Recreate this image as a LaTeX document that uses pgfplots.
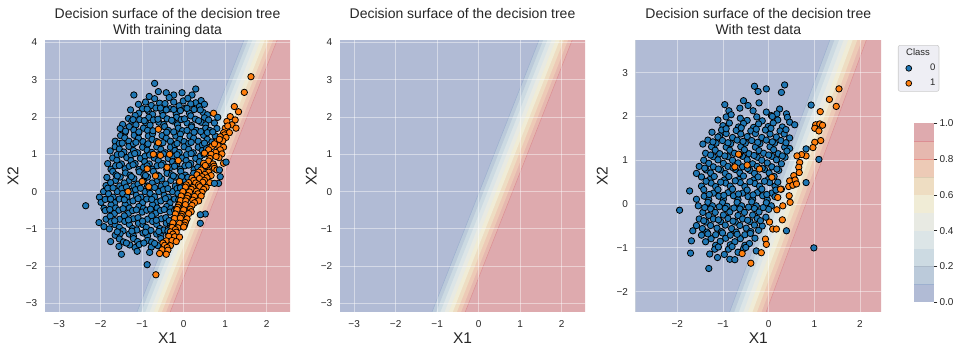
\documentclass[border=0pt]{standalone}
\usepackage{fontspec}
\setmainfont{Liberation Sans}
\usepackage{pgfplots}
\pgfplotsset{compat=1.18}
\definecolor{tabblue}{HTML}{1F77B4}
\definecolor{taborange}{HTML}{FF7F0E}
\definecolor{c0}{HTML}{B1BBD5}
\definecolor{c1}{HTML}{BBCADA}
\definecolor{c2}{HTML}{CCDAE2}
\definecolor{c3}{HTML}{DCE5E7}
\definecolor{c4}{HTML}{E8EAE3}
\definecolor{c5}{HTML}{F0ECD6}
\definecolor{c6}{HTML}{EEDDC2}
\definecolor{c7}{HTML}{EDCAB6}
\definecolor{c8}{HTML}{E6B8AF}
\definecolor{c9}{HTML}{DEAAAE}
\definecolor{lineblue}{HTML}{9DB0CF}
\definecolor{linered}{HTML}{DC8E93}
\definecolor{legfill}{HTML}{EEEEF4}
\definecolor{legedge}{HTML}{CCCCCC}
\definecolor{txt}{HTML}{262626}

\pgfplotsset{
  panel/.style={
    scale only axis, width=245pt, height=271pt,
    tick style={draw=none},
    axis line style={draw=none},
    tick label style={font=\fontsize{10}{12}\selectfont, text=txt},
    xticklabel style={inner sep=0pt, anchor=north, yshift=-8.3pt},
    yticklabel style={inner sep=0pt, anchor=east, xshift=-7.6pt},
    label style={font=\fontsize{15.5}{18}\selectfont, text=txt},
    xlabel style={at={(axis description cs:0.5,-0.1166)}, anchor=base},
    xlabel={X1}, ylabel={X2},
  },
  band/.style={draw=none, forget plot, fill=#1},
  gridln/.style={draw=white, opacity=0.45, line width=0.9pt, forget plot},
  bluepts/.style={only marks, mark=*, mark size=3.2pt, mark options={fill=tabblue, draw=black, line width=0.8pt}, forget plot},
  orgpts/.style={only marks, mark=*, mark size=3.2pt, mark options={fill=taborange, draw=black, line width=0.8pt}, forget plot},
}

\newcommand{\bands}{%
\addplot[band=c9] coordinates {(-10,-6) (10,-6) (10,6) (-10,6)};
\addplot[band=c8] coordinates {(-10,-6) (-1.304,-6) (2.936,6) (-10,6)};
\addplot[band=c7] coordinates {(-10,-6) (-1.404,-6) (2.836,6) (-10,6)};
\addplot[band=c6] coordinates {(-10,-6) (-1.504,-6) (2.736,6) (-10,6)};
\addplot[band=c5] coordinates {(-10,-6) (-1.604,-6) (2.636,6) (-10,6)};
\addplot[band=c4] coordinates {(-10,-6) (-1.704,-6) (2.536,6) (-10,6)};
\addplot[band=c3] coordinates {(-10,-6) (-1.804,-6) (2.436,6) (-10,6)};
\addplot[band=c2] coordinates {(-10,-6) (-1.904,-6) (2.336,6) (-10,6)};
\addplot[band=c1] coordinates {(-10,-6) (-2.004,-6) (2.236,6) (-10,6)};
\addplot[band=c0] coordinates {(-10,-6) (-2.104,-6) (2.136,6) (-10,6)};
\addplot[forget plot, draw=lineblue, line width=0.5pt] coordinates {(-2.104,-6) (2.136,6)};
\addplot[forget plot, draw=linered, line width=0.5pt] coordinates {(-1.304,-6) (2.936,6)};
}
\newcommand{\gridlines}[2]{%
\pgfplotsinvokeforeach{#1}{\addplot[gridln] coordinates {(##1,-10) (##1,10)};}
\pgfplotsinvokeforeach{#2}{\addplot[gridln] coordinates {(-10,##1) (10,##1)};}
}

\begin{document}
\begin{tikzpicture}

% ---------------- Panel 1 : training data ----------------
\begin{axis}[panel, at={(45pt,41.3pt)}, anchor=south west,
  xmin=-3.34, xmax=2.56, ymin=-3.22, ymax=4.045,
  xtick={-3,-2,-1,0,1,2}, xticklabels={−3,−2,−1,0,1,2},
  ytick={-3,-2,-1,0,1,2,3,4}, yticklabels={−3,−2,−1,0,1,2,3,4},
  ylabel style={at={(axis description cs:-0.131,0.5)}, anchor=center}]
\bands
\gridlines{-3,-2,-1,0,1,2}{-3,-2,-1,0,1,2,3,4}
\addplot[bluepts] coordinates {
(-0.70,2.90) (-0.61,2.68) (-0.42,2.65) (-0.24,2.59) (-0.04,2.65) (0.20,2.59) (0.29,2.75) (-1.20,2.59) (-0.83,2.55)
(-0.92,2.40) (-0.70,2.49) (-0.58,2.37) (-0.35,2.52) (-0.24,2.40) (-0.01,2.43) (0.10,2.50) (0.29,2.38) (0.42,2.44)
(-1.09,2.34) (-0.99,2.22) (-0.78,2.31) (-0.67,2.24) (-0.45,2.36) (-0.33,2.22) (-0.11,2.30) (0.05,2.24) (0.17,2.35) (0.38,2.28) (0.50,2.34)
(-1.28,2.19) (-1.08,2.10) (-0.85,2.16) (-0.75,2.07) (-0.52,2.14) (-0.42,2.19) (-0.18,2.08) (-0.08,2.17) (0.14,2.10) (0.25,2.20) (0.47,2.12) (0.57,2.06)
(-1.33,1.96) (-1.17,2.04) (-1.06,1.93) (-0.84,1.99) (-0.73,1.92) (-0.50,2.04) (-0.40,1.95) (-0.17,1.99) (-0.06,1.93) (0.17,2.03) (0.28,1.94) (0.50,1.98) (0.60,1.92)
(-1.47,1.80) (-1.25,1.89) (-1.15,1.79) (-0.92,1.85) (-0.81,1.78) (-0.60,1.86) (-0.48,1.80) (-0.26,1.89) (-0.15,1.79) (0.08,1.84) (0.19,1.77) (0.42,1.86) (0.53,1.79) (0.74,1.84)
(-1.53,1.69) (-1.31,1.74) (-1.20,1.65) (-0.97,1.70) (-0.87,1.64) (-0.46,1.74) (-0.37,1.64) (-0.13,1.70) (-0.03,1.63) (0.19,1.73) (0.30,1.64) (0.53,1.70) (0.63,1.64) (0.80,1.69)
(-1.52,1.50) (-1.41,1.59) (-1.19,1.51) (-1.08,1.58) (-0.85,1.49) (-0.75,1.55) (-0.52,1.50) (-0.41,1.59) (-0.19,1.49) (-0.08,1.54) (0.15,1.49) (0.25,1.59) (0.48,1.51) (0.57,1.58) (0.76,1.49)
(-1.65,1.35) (-1.42,1.44) (-1.32,1.35) (-1.09,1.43) (-0.98,1.34) (-0.76,1.40) (-0.65,1.34) (-0.42,1.43) (-0.32,1.35) (-0.09,1.40) (0.01,1.34) (0.24,1.43) (0.35,1.35) (0.57,1.40) (0.68,1.33)
(-1.65,1.20) (-1.55,1.29) (-1.32,1.21) (-1.21,1.28) (-0.99,1.19) (-0.88,1.25) (-0.65,1.20) (-0.55,1.29) (-0.32,1.19) (-0.21,1.25) (0.01,1.20) (0.12,1.29) (0.35,1.19) (0.45,1.25) (0.64,1.20)
(-1.77,1.09) (-1.55,1.14) (-1.44,1.06) (-1.21,1.10) (-1.11,1.04) (-0.88,1.11) (-0.77,1.05) (-0.55,1.13) (-0.44,1.04) (-0.21,1.10) (-0.11,1.05) (0.12,1.13) (0.23,1.04) (0.45,1.10) (0.55,1.15)
(-1.71,0.90) (-1.60,0.99) (-1.37,0.91) (-1.27,0.98) (-1.04,0.89) (-0.93,0.95) (-0.71,0.90) (-0.60,0.99) (-0.37,0.89) (-0.27,0.95) (-0.04,0.90) (0.07,0.99) (0.29,0.89) (0.40,0.95)
(-1.83,0.75) (-1.61,0.84) (-1.50,0.74) (-1.27,0.83) (-1.17,0.75) (-0.94,0.80) (-0.83,0.74) (-0.61,0.83) (-0.50,0.75) (-0.27,0.80) (-0.17,0.74) (0.06,0.83) (0.17,0.75) (0.38,0.80)
(-1.75,0.60) (-1.64,0.69) (-1.41,0.61) (-1.31,0.68) (-1.08,0.59) (-0.97,0.65) (-0.75,0.60) (-0.64,0.69) (-0.41,0.59) (-0.31,0.65) (-0.08,0.60) (0.03,0.69) (0.25,0.59) (0.34,0.65)
(-1.71,0.54) (-1.63,0.45) (-1.40,0.50) (-1.29,0.44) (-1.07,0.53) (-0.96,0.45) (-0.73,0.54) (-0.63,0.44) (-0.40,0.49) (-0.29,0.45) (-0.07,0.54) (0.04,0.44) (0.24,0.49)
(-1.85,0.38) (-1.64,0.30) (-1.53,0.39) (-1.31,0.30) (-1.20,0.35) (-0.97,0.30) (-0.87,0.39) (-0.64,0.30) (-0.53,0.34) (-0.31,0.30) (-0.20,0.39) (0.03,0.30) (0.10,0.38)
(-1.87,0.16) (-1.76,0.24) (-1.54,0.15) (-1.43,0.23) (-1.20,0.15) (-1.10,0.20) (-0.87,0.15) (-0.76,0.23) (-0.54,0.15) (-0.43,0.20) (-0.20,0.15) (-0.10,0.23) (0.08,0.16)
(-1.93,0.00) (-1.83,0.09) (-1.60,0.00) (-1.49,0.08) (-1.27,0.00) (-1.16,0.05) (-0.93,0.00) (-0.83,0.08) (-0.60,0.00) (-0.49,0.05) (-0.27,0.00) (-0.16,0.08) (0.02,0.01)
(-2.03,-0.15) (-1.81,-0.06) (-1.70,-0.15) (-1.47,-0.05) (-1.37,-0.14) (-1.14,-0.10) (-1.03,-0.15) (-0.81,-0.05) (-0.70,-0.14) (-0.47,-0.10) (-0.37,-0.15) (-0.14,-0.05) (-0.03,-0.14)
(-1.99,-0.29) (-1.89,-0.21) (-1.66,-0.30) (-1.55,-0.20) (-1.33,-0.29) (-1.22,-0.25) (-0.99,-0.30) (-0.89,-0.20) (-0.66,-0.29) (-0.55,-0.25) (-0.33,-0.30) (-0.22,-0.20) (-0.06,-0.28)
(-2.36,-0.38) (-1.92,-0.45) (-1.75,-0.36) (-1.64,-0.44) (-1.41,-0.35) (-1.31,-0.44) (-1.08,-0.40) (-0.97,-0.45) (-0.75,-0.35) (-0.64,-0.44) (-0.41,-0.40) (-0.31,-0.45) (-0.12,-0.35)
(-1.89,-0.51) (-1.67,-0.59) (-1.56,-0.50) (-1.33,-0.58) (-1.23,-0.51) (-1.00,-0.55) (-0.89,-0.50) (-0.67,-0.58) (-0.56,-0.51) (-0.33,-0.55) (-0.22,-0.50)
(-1.87,-0.74) (-1.77,-0.66) (-1.54,-0.74) (-1.43,-0.65) (-1.21,-0.73) (-1.10,-0.70) (-0.87,-0.74) (-0.77,-0.65) (-0.54,-0.73) (-0.43,-0.70) (-0.25,-0.74)
(-2.04,-0.83) (-1.92,-0.94) (-1.75,-0.81) (-1.65,-0.89) (-1.42,-0.80) (-1.31,-0.88) (-1.09,-0.85) (-0.98,-0.89) (-0.75,-0.80) (-0.65,-0.88) (-0.42,-0.85) (-0.32,-0.89)
(-1.79,-1.00) (-1.55,-0.96) (-1.46,-1.05) (-1.23,-0.99) (-1.13,-1.03) (-0.90,-0.96) (-0.79,-1.04) (-0.57,-0.99) (-0.48,-1.03) (-0.31,-0.96)
(-1.65,-1.17) (-1.53,-1.13) (-1.31,-1.14) (-1.21,-1.19) (-0.98,-1.11) (-0.87,-1.19) (-0.65,-1.14) (-0.55,-1.18) (-0.38,-1.11)
(-1.76,-1.34) (-1.55,-1.27) (-1.45,-1.35) (-1.21,-1.26) (-1.11,-1.34) (-0.87,-1.31) (-0.77,-1.35) (-0.55,-1.26) (-0.48,-1.36)
(-1.56,-1.47) (-1.30,-1.43) (-1.17,-1.50) (-1.07,-1.42) (-0.96,-1.38) (-0.78,-1.49) (-0.62,-1.45)
(-1.50,-1.68) (-0.82,-1.63) (-0.88,-1.96) (-1.12,-1.60)
(-0.88,2.21) (-0.56,2.24) (-0.24,2.20) (0.08,2.23) (0.40,2.19)
(-1.22,1.93) (-0.95,1.90) (-0.62,1.94) (-0.29,1.91) (0.02,1.95) (0.36,1.90)
(-1.40,1.62) (-1.08,1.60) (-0.74,1.63) (-0.24,1.60) (0.08,1.64) (0.41,1.61) (0.70,1.60)
(-1.48,1.30) (-1.15,1.32) (-0.86,1.28) (-0.50,1.31) (-0.16,1.29) (0.18,1.32) (0.50,1.30)
(-1.50,1.00) (-1.18,1.02) (-0.82,0.98) (-0.49,1.01) (-0.16,0.99) (0.18,1.02) (0.49,1.00)
(-1.55,0.70) (-1.22,0.72) (-0.88,0.69) (-0.54,0.71) (-0.22,0.68) (0.12,0.71)
(-1.60,0.42) (-1.26,0.40) (-0.92,0.43) (-0.59,0.41) (-0.25,0.42) (-0.05,0.40)
(-1.70,0.10) (-1.38,0.12) (-1.04,0.09) (-0.70,0.11) (-0.38,0.08) (-0.08,0.10)
(-1.76,-0.20) (-1.43,-0.22) (-1.10,-0.19) (-0.77,-0.21) (-0.44,-0.19) (-0.12,-0.22)
(-1.78,-0.48) (-1.46,-0.46) (-1.14,-0.49) (-0.80,-0.47) (-0.47,-0.48) (-0.18,-0.46)
(-1.66,-0.78) (-1.33,-0.76) (-0.99,-0.79) (-0.66,-0.77) (-0.35,-0.78)
(-1.60,-1.08) (-1.25,-1.06) (-0.92,-1.09) (-0.60,-1.07) (-0.38,-1.05)
(-1.38,-1.38) (-0.70,-1.39)
};
\addplot[orgpts] coordinates {
(1.62,3.08) (1.46,2.66) (1.22,2.28) (1.32,2.14) (0.72,2.10) (1.12,2.01) (1.24,1.92) (1.04,1.88) (1.16,1.79)
(1.00,1.70) (1.26,1.70) (1.06,1.76) (0.96,1.58) (1.10,1.58) (0.98,1.52) (0.88,1.47) (1.02,1.45) (0.80,1.34) (0.94,1.36) (0.86,1.40)
(0.68,1.21) (0.83,1.23) (0.96,1.19) (0.74,1.28) (0.60,1.12) (0.88,1.12) (0.50,1.03) (0.77,1.05) (0.92,1.01) (0.66,1.00)
(0.63,0.89) (0.85,0.91) (0.78,0.94) (0.60,0.82) (0.48,0.76) (0.71,0.74) (0.96,0.76) (0.55,0.67) (0.73,0.68) (0.52,0.70) (0.74,0.62)
(0.42,0.58) (0.61,0.56) (0.80,0.58) (0.36,0.52) (0.60,0.52) (0.32,0.45) (0.51,0.46) (0.66,0.43) (0.44,0.40)
(0.20,0.36) (0.38,0.35) (0.56,0.37) (0.24,0.30) (0.50,0.30) (0.12,0.24) (0.29,0.23) (0.46,0.25) (0.63,0.24)
(0.06,0.18) (0.36,0.18) (0.04,0.12) (0.22,0.11) (0.39,0.13) (0.54,0.11) (0.18,0.06) (0.48,0.06)
(-0.02,0.00) (0.14,-0.01) (0.31,0.01) (0.44,-0.02) (0.34,-0.06) (-0.06,-0.12) (0.10,-0.11) (0.26,-0.13) (0.42,-0.12) (0.08,-0.18)
(-0.08,-0.24) (0.05,-0.25) (0.22,-0.23) (0.36,-0.25) (0.26,-0.30) (-0.12,-0.36) (0.04,-0.35) (0.20,-0.37) (-0.14,-0.42)
(-0.16,-0.48) (0.00,-0.49) (0.16,-0.47) (0.18,-0.54) (-0.20,-0.60) (-0.04,-0.61) (0.12,-0.59) (-0.06,-0.66)
(-0.22,-0.72) (-0.08,-0.71) (0.08,-0.73) (-0.26,-0.84) (-0.10,-0.85) (0.04,-0.83) (0.02,-0.90)
(-0.28,-0.96) (-0.14,-0.97) (0.00,-0.95) (-0.20,-1.02) (-0.32,-1.08) (-0.18,-1.09) (-0.26,-1.14)
(-0.36,-1.20) (-0.22,-1.21) (-0.10,-1.22) (-0.42,-1.32) (-0.28,-1.31) (-0.18,-1.34) (-0.50,-1.38)
(-0.46,-1.44) (-0.32,-1.45) (-0.40,-1.50) (-0.52,-1.56) (-0.38,-1.57) (-0.58,-1.66) (-0.42,-1.68) (-0.67,-2.23)
(-0.61,1.67) (-0.61,1.31) (-0.73,1.00) (-0.56,0.97) (-0.34,1.00) (-0.13,0.83) (-0.88,0.61) (-0.40,0.65)
(-0.68,0.42) (-1.00,0.27) (-0.84,0.13) (-1.34,0.00) (-0.10,0.27)
};
\addplot[bluepts] coordinates {
(0.82,1.99) (1.02,0.79) (0.84,0.22) (0.74,0.22) (0.88,0.40) (0.86,0.58) (0.40,-0.85) (0.52,-0.60) (0.40,-0.62)
};
\end{axis}

% ---------------- Panel 2 : surface only ----------------
\begin{axis}[panel, at={(340pt,41.3pt)}, anchor=south west,
  xmin=-3.34, xmax=2.56, ymin=-3.22, ymax=4.045,
  xtick={-3,-2,-1,0,1,2}, xticklabels={−3,−2,−1,0,1,2},
  ytick={-3,-2,-1,0,1,2,3,4}, yticklabels={−3,−2,−1,0,1,2,3,4},
  ylabel style={at={(axis description cs:-0.118,0.5)}, anchor=center}]
\bands
\gridlines{-3,-2,-1,0,1,2}{-3,-2,-1,0,1,2,3,4}
\end{axis}

% ---------------- Panel 3 : test data ----------------
\begin{axis}[panel, at={(635.7pt,41.3pt)}, anchor=south west, width=245.3pt,
  xmin=-2.91, xmax=2.46, ymin=-2.457, ymax=3.73,
  xtick={-2,-1,0,1,2}, xticklabels={−2,−1,0,1,2},
  ytick={-2,-1,0,1,2,3}, yticklabels={−2,−1,0,1,2,3},
  ylabel style={at={(axis description cs:-0.137,0.5)}, anchor=center},
  legend style={at={(axis description cs:1.069,0.984)}, anchor=north west,
    fill=legfill, draw=legedge, rounded corners=2pt, line width=0.6pt,
    font=\fontsize{9.5}{11}\selectfont, text=txt,
    inner xsep=2pt, inner ysep=2pt, row sep=3pt, column sep=17pt,
    nodes={inner sep=1.5pt, text height=7pt, text depth=2pt}},
  legend cell align=left]
\addlegendimage{empty legend}\addlegendentry{\hspace*{-24pt}Class}
\addlegendimage{only marks, mark=*, mark size=2.9pt, mark options={fill=tabblue, draw=black, line width=0.7pt}}\addlegendentry{0}
\addlegendimage{only marks, mark=*, mark size=2.9pt, mark options={fill=taborange, draw=black, line width=0.7pt}}\addlegendentry{1}
\bands
\gridlines{-2,-1,0,1,2}{-2,-1,0,1,2,3}
\addplot[bluepts] coordinates {
(-0.31,2.69) (0.35,2.72) (-0.23,2.57) (-0.05,2.63) (0.28,2.55)
(-0.96,2.27) (-0.55,2.36) (-0.21,2.31) (-0.45,2.25) (-0.87,2.13) (-0.63,2.19) (-0.34,2.13) (0.24,2.17) (0.18,2.06) (0.06,2.02) (-0.05,2.10) (0.39,2.06)
(-1.11,1.92) (-0.93,1.99) (-0.82,2.04) (-0.62,1.96) (-0.47,1.91) (-0.26,1.99) (-0.14,1.90) (0.08,2.00) (0.20,1.92) (0.41,1.98)
(-1.00,1.79) (-0.86,1.85) (-0.66,1.76) (-0.55,1.84) (-0.33,1.75) (-0.22,1.83) (-0.01,1.77) (0.10,1.85) (0.30,1.76) (0.46,1.87) (0.57,1.81)
(-1.07,1.56) (-1.24,1.64) (-1.03,1.69) (-0.93,1.61) (-0.71,1.68) (-0.61,1.60) (-0.39,1.67) (-0.29,1.61) (-0.07,1.69) (0.03,1.60) (0.25,1.67) (0.34,1.60)
(-1.33,1.46) (-1.11,1.53) (-1.01,1.45) (-0.79,1.52) (-0.69,1.46) (-0.47,1.54) (-0.37,1.45) (-0.15,1.52) (-0.05,1.46) (0.17,1.53) (0.27,1.45) (0.46,1.51)
(-1.44,1.37) (-1.25,1.31) (-1.15,1.39) (-0.93,1.30) (-0.83,1.38) (-0.61,1.31) (-0.51,1.39) (-0.29,1.30) (-0.19,1.38) (0.03,1.31) (0.13,1.39) (0.35,1.30) (0.46,1.27)
(-1.38,1.16) (-1.17,1.23) (-1.07,1.15) (-0.85,1.23) (-0.75,1.16) (-0.53,1.24) (-0.43,1.15) (-0.21,1.22) (-0.11,1.16) (0.11,1.24) (0.21,1.15) (0.40,1.21)
(-1.42,1.00) (-1.21,1.08) (-1.11,1.01) (-0.89,1.08) (-0.79,1.00) (-0.57,1.09) (-0.47,1.01) (-0.25,1.07) (-0.15,1.00) (0.07,1.09) (0.17,1.01) (0.36,1.07)
(-1.52,0.86) (-1.31,0.93) (-1.21,0.85) (-0.99,0.93) (-0.89,0.86) (-0.67,0.94) (-0.57,0.85) (-0.35,0.92) (-0.25,0.86) (-0.03,0.94) (0.07,0.85) (0.28,0.92)
(-1.58,0.70) (-1.37,0.78) (-1.27,0.71) (-1.05,0.78) (-0.95,0.70) (-0.73,0.79) (-0.63,0.71) (-0.41,0.77) (-0.31,0.70) (-0.09,0.79) (0.01,0.71) (0.22,0.77)
(-1.47,0.62) (-1.29,0.56) (-1.19,0.63) (-0.97,0.55) (-0.87,0.63) (-0.65,0.56) (-0.55,0.64) (-0.33,0.55) (-0.23,0.62) (-0.01,0.56) (0.12,0.63)
(-1.47,0.41) (-1.26,0.48) (-1.16,0.40) (-0.94,0.48) (-0.84,0.41) (-0.62,0.49) (-0.52,0.40) (-0.30,0.47) (-0.20,0.41) (0.02,0.49) (0.14,0.41)
(-1.73,0.30) (-1.42,0.33) (-1.21,0.25) (-1.11,0.33) (-0.89,0.26) (-0.79,0.34) (-0.57,0.25) (-0.47,0.32) (-0.25,0.26) (-0.15,0.34) (0.07,0.25) (0.16,0.32)
(-1.58,0.11) (-1.41,0.18) (-1.31,0.10) (-1.09,0.18) (-0.99,0.11) (-0.77,0.19) (-0.67,0.10) (-0.45,0.17) (-0.35,0.11) (-0.13,0.19) (-0.03,0.10) (0.14,0.17)
(-1.54,-0.04) (-1.33,0.04) (-1.23,-0.04) (-1.01,0.03) (-0.91,-0.05) (-0.69,0.04) (-0.59,-0.04) (-0.37,0.05) (-0.27,-0.04) (-0.05,0.03) (0.06,-0.04)
(-1.95,-0.14) (-1.44,-0.19) (-1.27,-0.11) (-1.17,-0.19) (-0.95,-0.10) (-0.85,-0.18) (-0.63,-0.11) (-0.53,-0.19) (-0.31,-0.10) (-0.21,-0.18) (0.00,-0.12)
(-1.52,-0.34) (-1.31,-0.26) (-1.21,-0.34) (-0.99,-0.25) (-0.89,-0.33) (-0.67,-0.26) (-0.57,-0.34) (-0.35,-0.25) (-0.25,-0.33) (-0.06,-0.30)
(-1.58,-0.49) (-1.37,-0.41) (-1.27,-0.49) (-1.05,-0.40) (-0.95,-0.48) (-0.73,-0.41) (-0.63,-0.49) (-0.41,-0.40) (-0.31,-0.48) (-0.14,-0.50)
(-1.66,-0.61) (-1.45,-0.56) (-1.35,-0.64) (-1.13,-0.55) (-1.03,-0.63) (-0.81,-0.56) (-0.71,-0.64) (-0.49,-0.55) (-0.39,-0.63) (-0.22,-0.60)
(-1.47,-0.71) (-1.26,-0.79) (-1.16,-0.70) (-0.94,-0.78) (-0.84,-0.71) (-0.62,-0.79) (-0.52,-0.70) (-0.30,-0.78)
(-1.69,-0.84) (-1.38,-0.86) (-1.16,-0.94) (-1.06,-0.85) (-0.84,-0.93) (-0.74,-0.86) (-0.52,-0.94) (-0.42,-0.90)
(-1.71,-1.12) (-1.29,-1.14) (-1.18,-1.03) (-0.97,-1.15) (-0.88,-1.03) (-0.67,-1.10) (-0.55,-1.02) (-0.27,-1.07)
(-1.31,-1.47) (-0.85,-1.26) (-0.74,-1.27) (-1.12,-1.22)
(-0.93,1.72) (-0.60,1.74) (-0.27,1.71) (0.05,1.73) (0.38,1.70)
(-1.22,1.42) (-0.89,1.40) (-0.56,1.43) (-0.24,1.41) (0.08,1.42) (0.38,1.40)
(-1.27,1.12) (-0.96,1.10) (-0.64,1.13) (-0.32,1.11) (0.00,1.12) (0.30,1.10)
(-1.40,0.82) (-1.10,0.80) (-0.78,0.83) (-0.46,0.81) (-0.14,0.82) (0.18,0.80)
(-1.37,0.52) (-1.05,0.50) (-0.73,0.53) (-0.41,0.51) (-0.09,0.52) (0.20,0.50)
(-1.30,0.22) (-0.98,0.20) (-0.66,0.23) (-0.34,0.21) (-0.04,0.22)
(-1.40,-0.08) (-1.08,-0.06) (-0.76,-0.09) (-0.44,-0.07) (-0.12,-0.08)
(-1.42,-0.38) (-1.10,-0.36) (-0.78,-0.39) (-0.46,-0.37) (-0.18,-0.38)
(-1.33,-0.68) (-1.01,-0.66) (-0.69,-0.69) (-0.40,-0.67)
(-1.10,-0.98) (-0.80,-0.97) (-0.50,-0.99)
};
\addplot[orgpts] coordinates {
(1.54,2.63) (1.33,2.39) (1.48,2.23) (1.13,2.11) (1.03,1.81) (1.12,1.83) (1.18,1.80) (1.01,1.73) (1.10,1.67)
(1.14,1.45) (1.01,1.41) (0.97,1.29) (0.82,1.10) (0.72,1.13) (0.62,1.10) (0.68,0.95) (0.66,0.84) (0.67,0.72)
(0.55,0.65) (0.46,0.53) (0.58,0.55) (0.44,0.40) (0.53,0.43) (0.61,0.46) (0.28,0.34) (0.45,0.19) (0.47,0.04)
(0.31,-0.04) (0.20,0.15) (0.18,-0.13) (0.30,-0.36) (0.02,-0.41) (0.09,-0.57) (0.17,-0.57) (-0.07,-0.80)
(-0.05,-0.92) (-0.16,-1.11) (-0.58,-1.13) (-0.39,-1.35)
(-0.66,1.14) (-0.74,0.85) (-0.47,0.89) (-0.20,0.80) (0.07,0.61) (0.26,0.34)
};
\addplot[bluepts] coordinates {
(0.99,-1.00) (1.10,1.02) (0.82,0.49) (0.39,-0.61) (0.93,2.26) (0.82,1.26)
};
\end{axis}

% ---------------- Colorbar ----------------
\begin{axis}[at={(914pt,50.7pt)}, anchor=south west, scale only axis,
  width=20.3pt, height=179pt, xmin=0, xmax=1, ymin=0, ymax=1,
  xtick=\empty, ytick={0,0.2,0.4,0.6,0.8,1}, yticklabels={0.0,0.2,0.4,0.6,0.8,1.0},
  ytick pos=right, yticklabel pos=right, tick align=outside, major tick length=3pt,
  tick style={draw=txt, line width=0.6pt}, axis line style={draw=none},
  tick label style={font=\fontsize{10}{12}\selectfont, text=txt},
  yticklabel style={inner sep=0pt, anchor=west, xshift=2pt}]
\addplot[fill=c0, draw=none] coordinates {(0,0) (1,0) (1,0.1) (0,0.1)};
\addplot[fill=c1, draw=none] coordinates {(0,0.1) (1,0.1) (1,0.2) (0,0.2)};
\addplot[fill=c2, draw=none] coordinates {(0,0.2) (1,0.2) (1,0.3) (0,0.3)};
\addplot[fill=c3, draw=none] coordinates {(0,0.3) (1,0.3) (1,0.4) (0,0.4)};
\addplot[fill=c4, draw=none] coordinates {(0,0.4) (1,0.4) (1,0.5) (0,0.5)};
\addplot[fill=c5, draw=none] coordinates {(0,0.5) (1,0.5) (1,0.6) (0,0.6)};
\addplot[fill=c6, draw=none] coordinates {(0,0.6) (1,0.6) (1,0.7) (0,0.7)};
\addplot[fill=c7, draw=none] coordinates {(0,0.7) (1,0.7) (1,0.8) (0,0.8)};
\addplot[fill=c8, draw=none] coordinates {(0,0.8) (1,0.8) (1,0.9) (0,0.9)};
\addplot[fill=c9, draw=none] coordinates {(0,0.9) (1,0.9) (1,1) (0,1)};
\addplot[draw=lineblue, line width=0.6pt] coordinates {(0,0.1) (1,0.1)};
\addplot[draw=c1!85!black, line width=0.4pt, opacity=0.5] coordinates {(0,0.2) (1,0.2)};
\addplot[draw=c6!85!black, line width=0.4pt, opacity=0.5] coordinates {(0,0.7) (1,0.7)};
\addplot[draw=c8!80!red, line width=0.5pt] coordinates {(0,0.8) (1,0.8)};
\addplot[draw=linered, line width=0.6pt] coordinates {(0,0.9) (1,0.9)};
\end{axis}

% ---------------- Titles ----------------
\begin{scope}[every node/.style={font=\fontsize{14}{16}\selectfont, text=txt, anchor=base}]
\node at (167.5pt,334pt) {Decision surface of the decision tree};
\node at (167.5pt,318.7pt) {With training data};
\node at (462.5pt,334pt) {Decision surface of the decision tree};
\node at (758.3pt,334pt) {Decision surface of the decision tree};
\node at (758.3pt,318.7pt) {With test data};
\end{scope}
\pgfresetboundingbox
\path[use as bounding box] (0,0) rectangle (962pt,353pt);
\end{tikzpicture}
\end{document}
